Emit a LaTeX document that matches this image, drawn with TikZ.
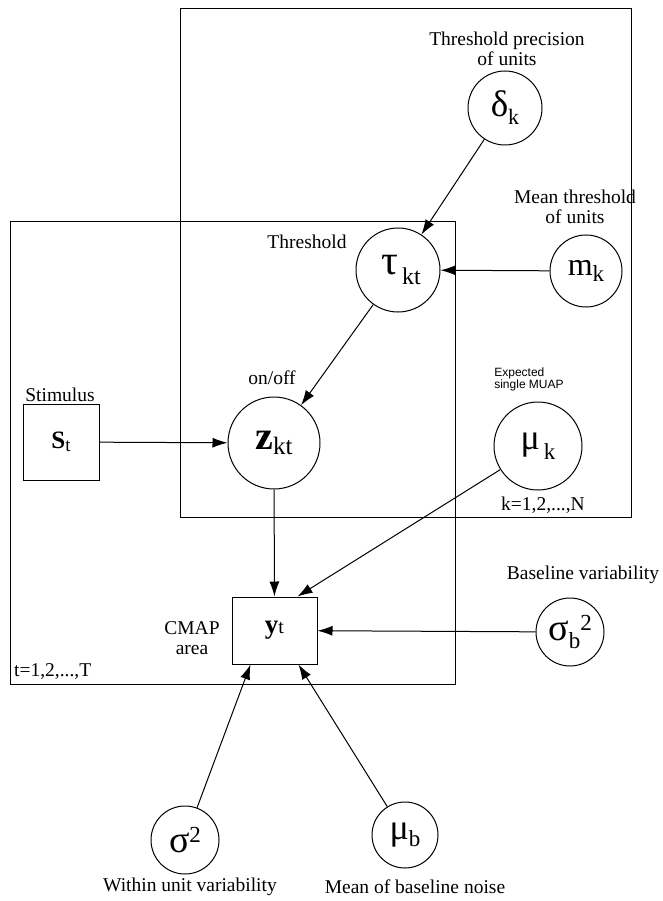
\documentclass[tikz,border=0pt]{standalone}
\usepackage{fontspec}
\setmainfont{Liberation Serif}
\newfontfamily\sansf{Liberation Sans}
\usetikzlibrary{arrows.meta}
\newcommand{\fs}[1]{\fontsize{#1}{#1}\selectfont}
\begin{document}
\begin{tikzpicture}[x=1pt,y=-1pt,
  rv/.style={circle,draw,line width=1pt,inner sep=0pt},
  obs/.style={rectangle,draw,line width=1pt,inner sep=0pt},
  lbl/.style={inner sep=0pt,font=\fs{19.5},align=center},
  arr/.style={line width=1pt,-{Latex[length=15pt,width=10pt]}},
  plate/.style={line width=1pt}]
\useasboundingbox (0,0) rectangle (663,901);
% plates
\draw[plate] (180,9) rectangle (631,517);
\draw[plate] (10,222) rectangle (455,684);
% nodes
\node[rv,minimum size=74pt] (delta) at (505,108) {\fs{37}δ\raisebox{-8pt}{\fs{22}k}};
\node[rv,minimum size=84pt] (tau) at (398,270) {\hspace{6pt}\fs{42}τ\raisebox{-10pt}{\fs{24}\,kt}};
\node[rv,minimum size=72pt] (mk) at (586,271) {\fs{32}m\raisebox{-6pt}{\fs{23}k}};
\node[rv,minimum size=92pt] (z) at (274,443) {\fs{40}\bfseries z\raisebox{-5pt}{\fs{25}\mdseries kt}};
\node[obs,minimum size=76pt] (s) at (61,442) {\fs{25}\bfseries S\raisebox{-3pt}{\fs{19}\mdseries t}};
\node[rv,minimum size=88pt] (muk) at (538,446) {\fs{36}μ\raisebox{-10pt}{\fs{23}\,k}};
\node[obs,minimum width=85pt,minimum height=67pt] (y) at (274.5,630.5) {\fs{27}\bfseries y{\fs{20}\mdseries t}};
\node[rv,minimum size=68pt] (sb) at (570,632) {\fs{38}σ\raisebox{-8pt}{\fs{23}b}\raisebox{10pt}{\fs{23}2}};
\node[rv,minimum size=68pt] (sig) at (185,840) {\fs{38}σ\raisebox{10pt}{\fs{23}2}};
\node[rv,minimum size=66pt] (mub) at (405,835) {\fs{36}μ\raisebox{-7pt}{\fs{23}b}};
% labels
\node[lbl] (l1) at (507,49) {Threshold precision\\of units};
\node[lbl] (l2) at (575,207) {Mean threshold\\of units};
\node[lbl] (l3) at (307,242) {Threshold};
\node[lbl] (l4) at (272,378) {on/off};
\node[lbl] (l5) at (60,395) {Stimulus};
\node[lbl,font=\sansf\fs{12},align=left] (l6) at (529,379) {Expected\\single MUAP};
\node[lbl] (l7) at (543,505) {k=1,2,...,N};
\node[lbl] (l8) at (192,638) {CMAP\\area};
\node[lbl,anchor=west] (l9) at (14,672) {t=1,2,...,T};
\node[lbl] (l10) at (583,575) {Baseline variability};
\node[lbl] (l11) at (190,887) {Within unit variability};
\node[lbl] (l12) at (415,887) {Mean of baseline noise};
% edges
\draw[arr] (delta) -- (tau);
\draw[arr] (mk) -- (tau);
\draw[arr] (tau) -- (z);
\draw[arr] (s) -- (z);
\draw[arr] (z) -- (y);
\draw[arr] (muk) -- ([xshift=23pt]y.north);
\draw[arr] (sb) -- (y);
\draw[arr] (sig) -- ([xshift=-24pt]y.south);
\draw[arr] (mub) -- ([xshift=24pt]y.south);
\end{tikzpicture}
\end{document}
